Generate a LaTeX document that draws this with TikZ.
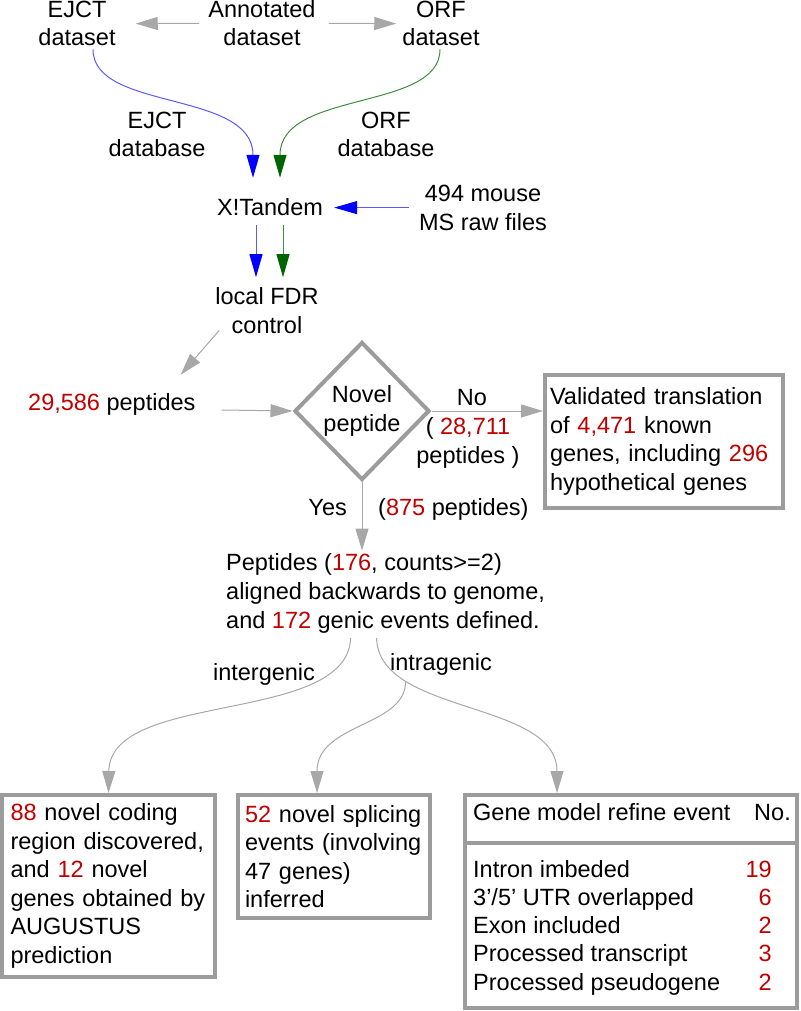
\documentclass[tikz,border=0pt]{standalone}
\usepackage{fontspec}
\setmainfont{Liberation Sans}
\usetikzlibrary{arrows.meta,shapes.geometric}
\definecolor{numred}{HTML}{C00000}
\definecolor{boxgray}{HTML}{9C9C9C}
\definecolor{linegray}{HTML}{A8A8A8}
\definecolor{ejctblue}{HTML}{0000FF}
\definecolor{orfgreen}{HTML}{006400}
\newcommand{\redn}[1]{\textcolor{numred}{#1}}
\tikzstyle{txt}=[inner sep=3pt, align=center]
\tikzstyle{box}=[draw=boxgray, line width=4pt, inner sep=0pt, align=left]
\tikzstyle{decision}=[diamond, draw=boxgray, line width=4pt, inner sep=0pt, minimum width=135pt, minimum height=138pt, align=center]
\tikzstyle{connect}=[linegray, line width=1pt, -{Triangle[length=22pt, width=13pt]}]
\tikzstyle{ejctline}=[ejctblue!65, line width=1pt, -{Triangle[length=23pt, width=13pt, color=ejctblue]}]
\tikzstyle{orfline}=[orfgreen!75!white, line width=1pt, -{Triangle[length=23pt, width=13pt, color=orfgreen]}]

\begin{document}
\begin{tikzpicture}[x=1pt, y=-1pt, font=\fontsize{23.5}{28.6}\selectfont]
  \useasboundingbox (0,0) rectangle (800,1011);

  % DATASETS (base = last line)
  \node[txt, anchor=base] (ejct)  at (77,46)  {EJCT\\dataset};
  \node[txt, anchor=base] (annot) at (262,46) {Annotated\\dataset};
  \node[txt, anchor=base] (orf)   at (441,46) {ORF\\dataset};
  \draw[connect] ([xshift=-6pt]annot.west) -- ([xshift=17pt]ejct.east);
  \draw[connect] ([xshift=10pt]annot.east) -- ([xshift=-3pt]orf.west);

  % DATABASES
  \node[txt, anchor=base] (ejctdb) at (157,157) {EJCT\\database};
  \node[txt, anchor=base] (orfdb)  at (386,157) {ORF\\database};
  \node[txt, anchor=base] (tandem) at (270,215) {X!Tandem};
  \node[txt, anchor=base] (raw)    at (483,230) {494 mouse\\MS raw files};
  \coordinate (ejct in) at ([xshift=-17pt, yshift=17pt]tandem.north);
  \coordinate (orf in)  at ([xshift=10pt, yshift=17pt]tandem.north);
  \draw[ejctline] ([xshift=16pt]ejct.south) .. controls +(0,62) and +(0,-88) .. (ejct in);
  \draw[orfline] ([xshift=-1pt]orf.south) .. controls +(0,62) and +(0,-88) .. (orf in);
  \draw[ejctline] ([xshift=-7pt]raw.west) -- ([xshift=8pt]tandem.east |- raw.west);

  % FDR
  \node[txt, anchor=base] (fdr) at (267,333) {local FDR\\control};
  \draw[ejctline] ([xshift=-14pt, yshift=-7pt]tandem.south) -- ([xshift=-11pt, yshift=7pt]fdr.north);
  \draw[orfline] ([xshift=13pt, yshift=-7pt]tandem.south) -- ([xshift=16pt, yshift=7pt]fdr.north);

  % PEPTIDES
  \node[txt, anchor=base west] (pep) at (25,410) {\redn{29,586} peptides};
  \node[decision] (novel) at (362,411) {Novel\\peptide};
  \draw[connect] ([xshift=7pt, yshift=6pt]fdr.south west) -- ([xshift=-18pt, yshift=15pt]pep.north east);
  \draw[connect] ([xshift=23pt]pep.base east) -- (novel.west);

  % NO BRANCH
  \node[box, text width=228pt, minimum width=238pt, minimum height=133pt] (valid) at (664,441.5)
    {Validated translation\\of \redn{4,471} known\\genes, including \redn{296}\\hypothetical genes};
  \draw[connect] (novel.east) -- (novel.east -| valid.west);
  \node[txt, anchor=base] (no)      at (472,405) {No};
  \node[txt, anchor=base] (nocount) at (468,463) {( \redn{28,711}\\peptides )};

  % YES BRANCH
  \node[txt, anchor=base west, align=left] (genic) at (223,628)
    {Peptides (\redn{176}, counts>=2)\\aligned backwards to genome,\\and \redn{172} genic events defined.};
  \draw[connect] (novel.south) -- (novel.south |- genic.north);
  \node[txt, anchor=base east] (yes)      at (350,515) {Yes};
  \node[txt, anchor=base west] (yescount) at (375,515) {(\redn{875} peptides)};

  % RESULT BOXES
  \node[box, text width=196pt, minimum width=213pt, minimum height=182pt] (coding) at (108.5,886)
    {\redn{88} novel coding\\region discovered,\\and \redn{12} novel\\genes obtained by\\AUGUSTUS\\prediction};
  \node[box, text width=178pt, minimum width=192pt, minimum height=123pt] (splice) at (334,856.5)
    {\redn{52} novel splicing\\events (involving\\47 genes)\\inferred};
  \node[box, minimum width=332pt, minimum height=48pt]  (refhead) at (631,819) {};
  \node[box, minimum width=332pt, minimum height=165pt] (refbody) at (631,925.5) {};
  \node[txt, anchor=base west] (headev) at (470,820) {Gene model refine event};
  \node[txt, anchor=base east] (headno) at (794,820) {No.};
  \foreach \ev/\cnt [count=\i, evaluate={\y=877+28.3*(\i-1);}]
    in {Intron imbeded/19, {3'/5' UTR overlapped}/6, Exon included/2, Processed transcript/3, Processed pseudogene/2}{
    \node[txt, anchor=base west] (ev-\i) at (470,\y) {\ev};
    \node[txt, anchor=base east, numred] (no-\i) at (775,\y) {\cnt};
  }

  % EVENT CONNECTORS
  \coordinate (inter) at ([xshift=-35pt, yshift=-2pt]genic.south);
  \coordinate (intra) at ([xshift=-9pt, yshift=-2pt]genic.south);
  \draw[connect] (inter) .. controls +(-3,87) and +(1.5,-103) .. (coding.north);
  \draw[connect] (intra) .. controls +(2,77) and +(0,-93) .. ([xshift=-74pt]refhead.north)
    coordinate[pos=0.25] (split);
  \draw[connect] (split) .. controls +(0,45) and +(0,-70) .. ([xshift=-17pt]splice.north);
  \node[txt, anchor=base] (intergenic) at (264,680) {intergenic};
  \node[txt, anchor=base] (intragenic) at (441,670) {intragenic};
\end{tikzpicture}
\end{document}
